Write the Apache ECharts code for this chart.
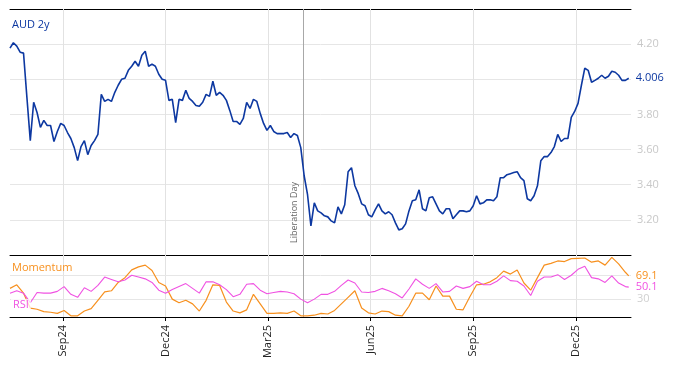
<!DOCTYPE html>
<html><head><meta charset="utf-8">
<script src="https://cdn.jsdelivr.net/npm/echarts@6/dist/echarts.min.js"></script>
<style>html,body{margin:0;padding:0;background:#fff}#c{width:674px;height:366px}</style>
</head><body><div id="c"></div>
<script>
// ---- data ----
const startDate = [2024, 6, 17];      // first sample (Jul 17 2024)
const axisMinDate = [2024, 6, 17];
const axisMaxDate = [2026, 0, 19];
const audStepDays = 3;                // AUD 2y sampled every 3 days
const lowStepDays = 6;                // momentum / RSI sampled every 6 days
const lastDay = 549;                  // last observation offset (days)
const tickDates = [[2024,8,2],[2024,11,2],[2025,2,3],[2025,5,2],[2025,8,1],[2025,11,1]];
const liberationDay = [2025, 3, 3];
const monthNames = ['Jan','Feb','Mar','Apr','May','Jun','Jul','Aug','Sep','Oct','Nov','Dec'];

const aud2y = [
4.177,4.208,4.189,4.154,4.149,3.897,3.651,3.869,3.811,3.726,
3.766,3.737,3.737,3.646,3.703,3.749,3.737,3.697,3.663,3.611,
3.537,3.617,3.651,3.571,3.623,3.651,3.686,3.914,3.874,3.886,
3.874,3.926,3.966,4.000,4.006,4.051,4.074,4.103,4.074,4.137,
4.160,4.074,4.086,4.074,4.029,4.000,3.994,3.880,3.886,3.754,
3.886,3.880,3.937,3.891,3.874,3.851,3.846,3.869,3.914,3.903,
3.989,3.909,3.926,3.909,3.880,3.823,3.760,3.760,3.743,3.777,
3.869,3.834,3.886,3.874,3.806,3.749,3.709,3.737,3.703,3.691,
3.691,3.691,3.697,3.669,3.691,3.680,3.611,3.451,3.343,3.166,
3.297,3.251,3.240,3.223,3.217,3.194,3.183,3.274,3.234,3.286,
3.474,3.497,3.394,3.349,3.291,3.280,3.229,3.217,3.257,3.291,
3.251,3.234,3.246,3.229,3.183,3.143,3.149,3.177,3.251,3.309,
3.314,3.371,3.263,3.251,3.326,3.331,3.291,3.251,3.234,3.263,
3.263,3.206,3.229,3.251,3.251,3.246,3.251,3.280,3.337,3.291,
3.297,3.314,3.314,3.309,3.331,3.440,3.440,3.457,3.463,3.469,
3.474,3.440,3.423,3.320,3.309,3.337,3.394,3.537,3.560,3.560,
3.583,3.617,3.686,3.646,3.663,3.663,3.783,3.817,3.863,3.966,
4.063,4.051,3.983,3.994,4.006,4.023,4.006,4.017,4.046,4.040,
4.023,3.994,3.994,4.006
];

const momentum = [
48,54,40,15,13,9,8,6,11,2,
2,10,14,28,42,44,58,66,79,84,
87,78,58,52,30,24,28,22,10,28,
54,53,25,10,7,12,38,22,6,6,
7,6,10,2,2,3,6,5,11,22,
33,44,15,7,5,10,9,3,2,18,
40,40,29,52,35,35,13,12,34,54,
55,59,66,77,72,79,57,45,66,87,
90,94,93,98,98.5,99,92,94,87,100,
89,75,69.1
];

const rsi = [
40,44,40,24,41,40,40,43,51,38,
33,49,43,53,67,63,59,62,70,67,
64,58,45,40,46,51,56,48,40,59,
59,54,46,34,38,55,56,45,39,41,
43,42,39,30,24,30,38,38,43,53,
62,57,42,41,43,48,44,39,32,47,
64,55,48,56,42,43,52,48,51,60,
54,54,60,69,61,60,52,36,60,67,
67,71,63,70,80,85,66,64,58,69,
57,51,50.1
];

// ---- build ----
function ts(a, off) { return new Date(a[0], a[1], a[2] + (off || 0)).getTime(); }
const audData = aud2y.map((v, i) => [ts(startDate, Math.min(i * audStepDays, lastDay)), v]);
const momData = momentum.map((v, j) => [ts(startDate, Math.min(j * lowStepDays, lastDay)), v]);
const rsiData = rsi.map((v, j) => [ts(startDate, Math.min(j * lowStepDays, lastDay)), v]);
const ticks = tickDates.map(a => ts(a));
const xMin = ts(axisMinDate), xMax = ts(axisMaxDate);
const libTs = ts(liberationDay);
const FONT = 'Open Sans';
const GRID = '#e6e6e6';
const VGRID = '#e2e2e2';
const LIB = '#a8a8a8';
const BLUE = '#0d38a1', ORANGE = '#f7901e', PINK = '#f052e2';
const gridV = () => ticks.map(t => ({xAxis: t, lineStyle: {color: VGRID, width: 1, type: 'solid'}}));

const chart = echarts.init(document.getElementById('c'), null, {renderer: 'canvas'});
chart.setOption({
  animation: false,
  textStyle: {fontFamily: FONT},
  title: [
    {text: 'AUD 2y', left: 12, top: 19, padding: 0, textStyle: {fontSize: 11, fontWeight: 'normal', color: BLUE, fontFamily: FONT}},
    {text: 'Momentum', left: 12, top: 262, padding: 0, textStyle: {fontSize: 11, fontWeight: 'normal', color: ORANGE, fontFamily: FONT}},
    {text: 'RSI', left: 11, top: 299, padding: [0, 2], backgroundColor: 'rgba(255,255,255,0.75)', textStyle: {fontSize: 11, fontWeight: 'normal', color: PINK, fontFamily: FONT}}
  ],
  grid: [
    {left: 10, right: 43, top: 9, height: 246},
    {left: 10, right: 43, top: 255, height: 62}
  ],
  xAxis: [
    {type: 'value', gridIndex: 0, position: 'bottom', min: xMin, max: xMax,
     axisLine: {show: true, lineStyle: {color: '#000', width: 1}},
     axisTick: {show: true, inside: true, length: 5, lineStyle: {color: '#000'}, customValues: ticks},
     axisLabel: {show: false, customValues: ticks},
     splitLine: {show: false}},
    {type: 'value', gridIndex: 0, position: 'top', min: xMin, max: xMax,
     axisLine: {show: true, lineStyle: {color: '#000', width: 1}},
     axisTick: {show: false}, axisLabel: {show: false}, splitLine: {show: false}},
    {type: 'value', gridIndex: 1, position: 'bottom', min: xMin, max: xMax,
     axisLine: {show: true, lineStyle: {color: '#000', width: 1}},
     axisTick: {show: true, length: 4, lineStyle: {color: '#000'}, customValues: ticks},
     axisLabel: {show: true, rotate: 90, margin: 8, fontSize: 11, color: '#222', fontFamily: FONT, customValues: ticks,
       formatter: v => { const d = new Date(v); return monthNames[d.getMonth()] + String(d.getFullYear()).slice(2); }},
     splitLine: {show: false}}
  ],
  yAxis: [
    {type: 'value', gridIndex: 0, position: 'right', min: 3.0, max: 4.4, interval: 0.2,
     axisLine: {show: false}, axisTick: {show: false},
     axisLabel: {margin: 6, fontSize: 11, color: '#c8c8c8', fontFamily: FONT,
       formatter: v => (v < 3.1 || v > 4.3 || Math.abs(v - 4) < 1e-6) ? '' : v.toFixed(2)},
     splitLine: {show: true, lineStyle: {color: GRID}}},
    {type: 'value', gridIndex: 1, position: 'right', min: 0, max: 104,
     axisLine: {show: false}, axisTick: {show: false},
     axisLabel: {margin: 6, fontSize: 11, color: '#d0d0d0', fontFamily: FONT, customValues: [30]},
     splitLine: {show: false}}
  ],
  series: [
    {type: 'line', name: 'AUD 2y', xAxisIndex: 0, yAxisIndex: 0, data: audData, showSymbol: false, z: 3,
     lineStyle: {color: BLUE, width: 1.6}, itemStyle: {color: BLUE},
     endLabel: {show: true, distance: 7, fontSize: 11, color: BLUE, fontFamily: FONT, formatter: p => p.value[1].toFixed(3)},
     markLine: {silent: true, symbol: 'none', animation: false, z: 1,
       label: {show: false},
       data: gridV().concat([{xAxis: libTs, lineStyle: {color: LIB, width: 1, type: 'solid'},
         label: {show: true, position: 'insideStartTop', formatter: 'Liberation Day', color: '#666', fontSize: 9, fontFamily: FONT, distance: [12, 4]}}])}},
    {type: 'line', name: 'Momentum', xAxisIndex: 2, yAxisIndex: 1, data: momData, showSymbol: false, z: 3,
     lineStyle: {color: ORANGE, width: 1.2}, itemStyle: {color: ORANGE},
     endLabel: {show: true, distance: 7, fontSize: 11, color: ORANGE, fontFamily: FONT, formatter: p => p.value[1].toFixed(1)}},
    {type: 'line', name: 'RSI', xAxisIndex: 2, yAxisIndex: 1, data: rsiData, showSymbol: false, z: 3,
     lineStyle: {color: PINK, width: 1.1}, itemStyle: {color: PINK},
     endLabel: {show: true, distance: 7, fontSize: 11, color: PINK, fontFamily: FONT, formatter: p => p.value[1].toFixed(1)},
     markLine: {silent: true, symbol: 'none', animation: false, label: {show: false}, z: 1,
       data: gridV().concat([
         {yAxis: 30, lineStyle: {color: GRID, width: 1, type: 'solid'}},
         {yAxis: 70, lineStyle: {color: GRID, width: 1, type: 'solid'}},
         {xAxis: libTs, lineStyle: {color: LIB, width: 1, type: 'solid'}}
       ])}}
  ]
});
</script></body></html>
